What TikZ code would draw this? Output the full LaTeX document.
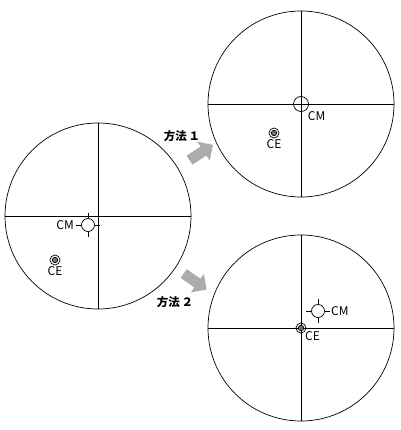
\documentclass[tikz,border=0pt]{standalone}
\usepackage{fontspec}
\setmainfont{Noto Sans CJK JP}
\usetikzlibrary{positioning}
\usetikzlibrary{shapes.arrows}

\tikzset{
  dish/.style={draw, circle, minimum size=186pt, inner sep=0pt},
  cmark/.style={draw, circle, minimum size=13pt, inner sep=0pt},
  cemark/.style={draw, circle, minimum size=10pt, inner sep=0pt,
    path picture={\draw[fill=black!55] (path picture bounding box.center) circle (2.7pt);}},
  lbl/.style={font=\fontsize{12}{13}\selectfont, inner sep=1pt},
  move/.style={single arrow, fill=gray!65, draw=none, minimum height=28pt,
    minimum width=22pt, single arrow head extend=6pt, inner sep=5pt},
  how/.style={font=\fontsize{11.5}{12}\selectfont\bfseries},
}

\begin{document}
\begin{tikzpicture}[x=1pt, y=-1pt, line width=0.7pt]
    \useasboundingbox (0, 0) rectangle (400, 430);

    % before
    \path (98, 216) node [dish] (d0) {};
    \draw (d0.west) -- (d0.east) (d0.north) -- (d0.south);
    \path (88, 225) node [cmark] (cm0) {};
    \foreach \a in {0, 90, 180, 270}
        \draw (cm0.\a) -- ++(\a:5pt);
    \path (cm0.west) node [lbl, left=6pt] (cm0l) {CM};
    \path (55, 260) node [cemark] (ce0) {};
    \path (ce0.south) node [lbl, below] (ce0l) {CE};

    % method 1
    \path (301, 104) node [dish] (d1) {};
    \draw (d1.west) -- (d1.east) (d1.north) -- (d1.south);
    \path (301, 104) node [cmark, minimum size=15pt] (cm1) {};
    \path (cm1.south east) node [lbl, below right=1pt and 0pt] (cm1l) {CM};
    \path (274, 133) node [cemark] (ce1) {};
    \path (ce1.south) node [lbl, below] (ce1l) {CE};

    % method 2
    \path (301, 328) node [dish] (d2) {};
    \draw (d2.west) -- (d2.east) (d2.north) -- (d2.south);
    \path (318, 311) node [cmark] (cm2) {};
    \foreach \a in {0, 90, 180, 270}
        \draw (cm2.\a) -- ++(\a:5pt);
    \path (cm2.east) node [lbl, right=5pt] (cm2l) {CM};
    \path (301, 328) node [cemark] (ce2) {};
    \path (ce2.south east) node [lbl, below right=-2pt and -1pt] (ce2l) {CE};

    % arrows
    \path (199, 154) node [move, rotate=33] (m1) {};
    \path (182, 136) node [how] (m1l) {方法\,１};
    \path (193, 280) node [move, rotate=-35] (m2) {};
    \path (175, 302) node [how] (m2l) {方法\,２};
\end{tikzpicture}
\end{document}
